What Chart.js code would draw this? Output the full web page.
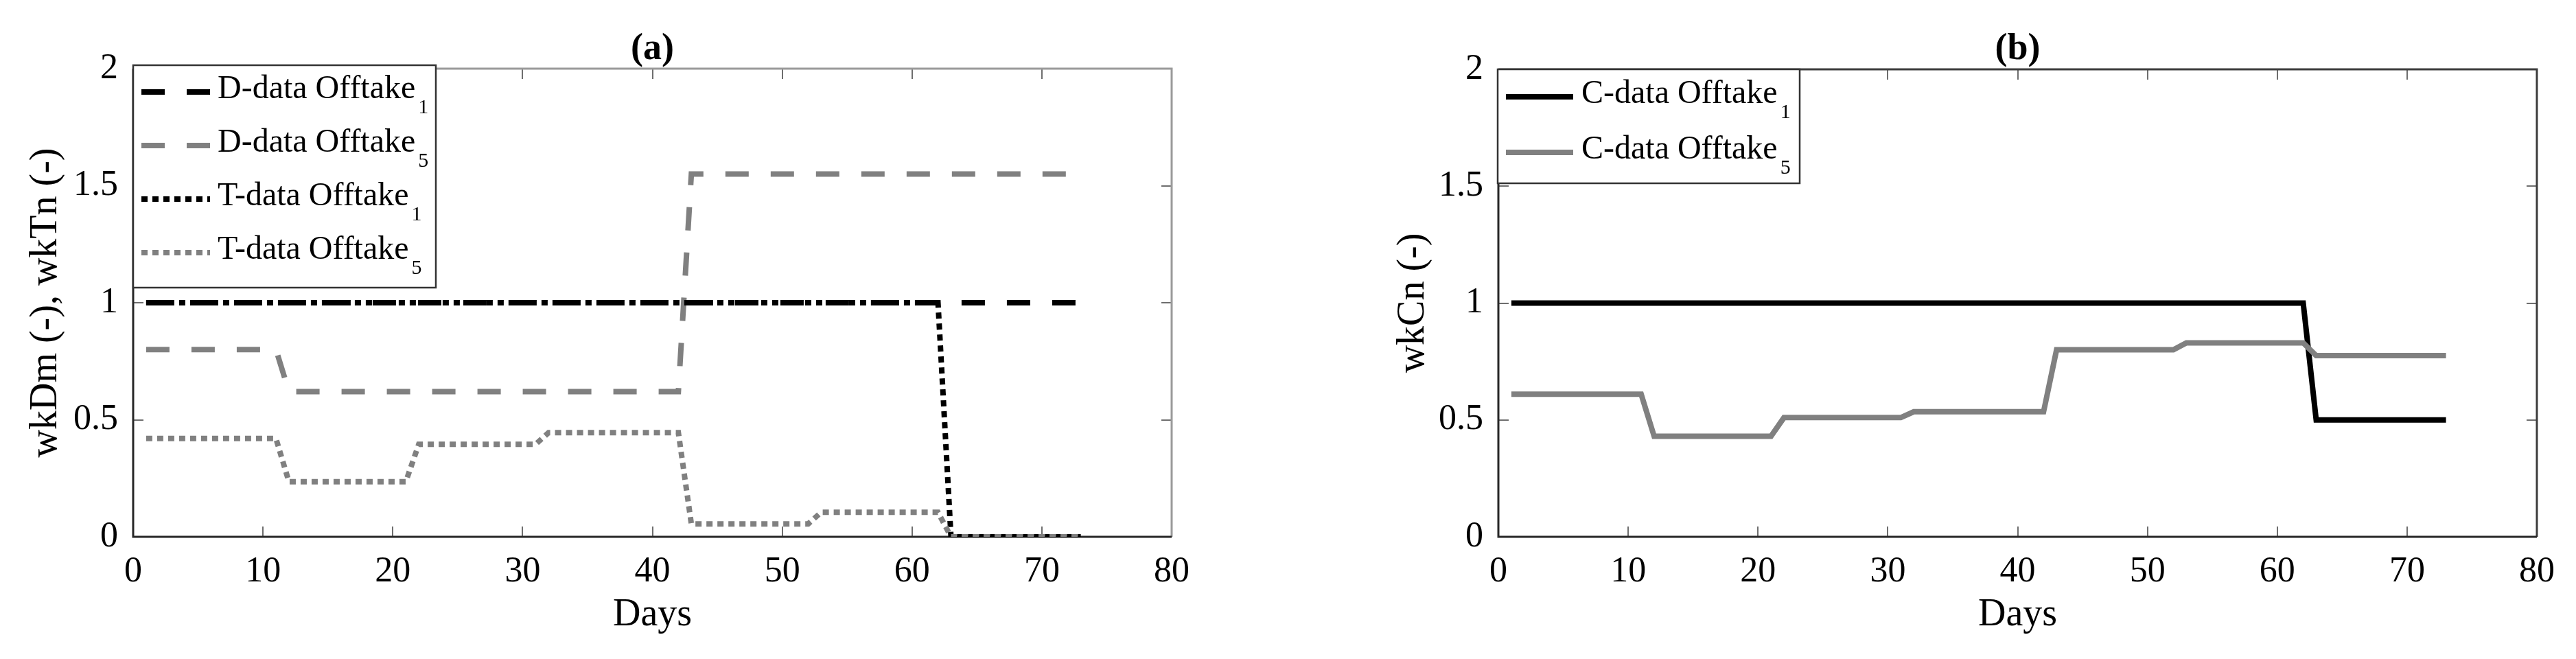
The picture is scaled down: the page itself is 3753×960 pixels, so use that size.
<!DOCTYPE html>
<html>
<head>
<meta charset="utf-8">
<script src="https://cdn.jsdelivr.net/npm/chart.js@4.4.1/dist/chart.umd.min.js"></script>
<style>
  body { margin: 0; background: #fff; }
  #wrap { position: relative; width: 3753px; height: 960px; }
  canvas { position: absolute; top: 0; }
  #chartA { left: 0; }
  #chartB { left: 1876px; }
</style>
</head>
<body>
<div id="wrap">
  <canvas id="chartA" width="1876" height="960"></canvas>
  <canvas id="chartB" width="1877" height="960"></canvas>
</div>
<script>
const FONT = "'Liberation Serif', 'Times New Roman', serif"
const BLACK = '#000000'
const GRAY = '#808080'

// x ticks (Days) and y ticks shared by both panels
const dayTicks = [0, 10, 20, 30, 40, 50, 60, 70, 80]
const valueTicks = [0, 0.5, 1, 1.5, 2]

// (a) D-data / T-data, day and value at each corner of the daily step lines
const dOfftake1Days = [1, 73]
const dOfftake1 = [1.0, 1.0]
const dOfftake5Days = [1, 11, 12, 42, 43, 73]
const dOfftake5 = [0.80, 0.80, 0.62, 0.62, 1.55, 1.55]
const tOfftake1Days = [1, 62, 63, 73]
const tOfftake1 = [1.0, 1.0, 0.0, 0.0]
const tOfftake5Days = [1, 11, 12, 21, 22, 31, 32, 42, 43, 52, 53, 62, 63, 73]
const tOfftake5 = [0.42, 0.42, 0.235, 0.235, 0.395, 0.395, 0.445, 0.445, 0.055, 0.055, 0.105, 0.105, 0.0, 0.0]

// (b) C-data
const cOfftake1Days = [1, 62, 63, 73]
const cOfftake1 = [1.0, 1.0, 0.5, 0.5]
const cOfftake5Days = [1, 11, 12, 21, 22, 31, 32, 42, 43, 52, 53, 62, 63, 73]
const cOfftake5 = [0.61, 0.61, 0.43, 0.43, 0.51, 0.51, 0.535, 0.535, 0.80, 0.80, 0.83, 0.83, 0.775, 0.775]

function toPoints(days, vals) {
    return days.map((d, i) => ({x: d, y: vals[i]}))
}

// MATLAB style box with inward ticks
const matlabBox = {
    id: 'matlabBox',
    beforeDatasetsDraw(chart, args, opts) {
        const {ctx, chartArea: a} = chart
        const x = chart.scales.x
        const y = chart.scales.y
        ctx.save()
        ctx.lineWidth = 2
        ctx.strokeStyle = '#6e6e6e'
        ctx.beginPath()
        x.ticks.forEach((t) => {
            const px = Math.round(x.getPixelForValue(t.value))
            ctx.moveTo(px, a.bottom)
            ctx.lineTo(px, a.bottom - 15)
            ctx.moveTo(px, a.top)
            ctx.lineTo(px, a.top + 15)
        })
        y.ticks.forEach((t) => {
            const py = Math.round(y.getPixelForValue(t.value))
            ctx.moveTo(a.left, py)
            ctx.lineTo(a.left + 15, py)
            ctx.moveTo(a.right, py)
            ctx.lineTo(a.right - 15, py)
        })
        ctx.stroke()
        ctx.lineWidth = 3
        ctx.strokeStyle = opts.farColor
        ctx.beginPath()
        ctx.moveTo(a.left, a.top)
        ctx.lineTo(a.right, a.top)
        ctx.lineTo(a.right, a.bottom)
        ctx.stroke()
        ctx.strokeStyle = '#262626'
        ctx.beginPath()
        ctx.moveTo(a.left, a.top)
        ctx.lineTo(a.left, a.bottom)
        ctx.lineTo(a.right, a.bottom)
        ctx.stroke()
        ctx.restore()
    }
}

// boxed legend with subscripts, drawn from the datasets
const boxLegend = {
    id: 'boxLegend',
    afterDatasetsDraw(chart, args, opts) {
        const {ctx, chartArea: a} = chart
        const bx = a.left + opts.x
        const by = a.top + opts.y
        ctx.save()
        ctx.fillStyle = '#fff'
        ctx.fillRect(bx, by, opts.width, opts.height)
        ctx.lineWidth = 2.5
        ctx.strokeStyle = '#333'
        ctx.strokeRect(bx, by, opts.width, opts.height)
        chart.data.datasets.forEach((ds, i) => {
            const ly = by + opts.firstRow + i * opts.rowStep
            ctx.setLineDash(ds.borderDash || [])
            ctx.lineWidth = ds.borderWidth
            ctx.strokeStyle = ds.borderColor
            ctx.beginPath()
            ctx.moveTo(bx + opts.lineStart, ly)
            ctx.lineTo(bx + opts.lineEnd, ly)
            ctx.stroke()
            ctx.setLineDash([])
            ctx.fillStyle = '#000'
            ctx.textBaseline = 'alphabetic'
            ctx.font = '48px ' + FONT
            ctx.fillText(ds.label, bx + opts.textStart, ly + 9)
            const w = ctx.measureText(ds.label).width
            ctx.font = '30px ' + FONT
            ctx.fillText(ds.sub, bx + opts.textStart + w + 4, ly + 31)
        })
        ctx.restore()
    }
}

function lineSet(label, sub, days, vals, color, dash, index, count) {
    return {
        label: label,
        sub: sub,
        data: toPoints(days, vals),
        borderColor: color,
        backgroundColor: color,
        borderDash: dash,
        borderWidth: 8,
        pointRadius: 0,
        tension: 0,
        fill: false,
        order: count - index,
    }
}

function buildPanel(canvasId, p) {
    'use strict'
    const ctx = document.getElementById(canvasId)
    return new Chart(ctx, {
        type: 'line',
        data: { datasets: p.datasets },
        plugins: [matlabBox, boxLegend],
        options: {
            responsive: false,
            animation: false,
            devicePixelRatio: 1,
            layout: { padding: { left: 0, right: p.padRight, top: 0, bottom: 0 } },
            plugins: {
                legend: { display: false },
                tooltip: { enabled: false },
                title: {
                    display: true,
                    fullSize: false,
                    text: p.title,
                    color: '#000',
                    font: { family: FONT, size: 54, weight: 'bold', lineHeight: 1 },
                    padding: { top: 45, bottom: p.titleBottom },
                },
                matlabBox: { farColor: p.farColor },
                boxLegend: p.legend,
            },
            scales: {
                x: {
                    type: 'linear',
                    min: dayTicks[0],
                    max: dayTicks[dayTicks.length - 1],
                    afterFit: (s) => { s.height = 178 },
                    afterBuildTicks: (s) => { s.ticks = dayTicks.map((v) => ({value: v})) },
                    grid: { display: false, drawTicks: false },
                    border: { display: false },
                    ticks: {
                        maxRotation: 0,
                        autoSkip: false,
                        padding: 20,
                        color: '#000',
                        font: { family: FONT, size: 52 },
                        callback: (v) => String(v),
                    },
                    title: {
                        display: true,
                        text: 'Days',
                        color: '#000',
                        font: { family: FONT, size: 56 },
                        padding: { top: 0, bottom: 30 },
                    },
                },
                y: {
                    type: 'linear',
                    min: valueTicks[0],
                    max: valueTicks[valueTicks.length - 1],
                    afterFit: (s) => { s.width = p.yWidth },
                    afterBuildTicks: (s) => { s.ticks = valueTicks.map((v) => ({value: v})) },
                    grid: { display: false, drawTicks: false },
                    border: { display: false },
                    ticks: {
                        padding: 22,
                        color: '#000',
                        font: { family: FONT, size: 52 },
                        callback: (v) => String(v),
                    },
                    title: {
                        display: true,
                        text: p.yTitle,
                        color: '#000',
                        font: { family: FONT, size: 56 },
                        padding: { top: p.yTitlePad, bottom: 0 },
                    },
                },
            },
        },
    })
}

buildPanel('chartA', {
    title: '(a)',
    titleBottom: 1,
    yTitle: 'wkDm (-), wkTn (-)',
    yTitlePad: 34,
    yWidth: 194,
    padRight: 169,
    farColor: '#9a9a9a',
    legend: { x: 0, y: -5, width: 441, height: 324, firstRow: 39, rowStep: 78, lineStart: 12, lineEnd: 112, textStart: 123 },
    datasets: [
        lineSet('D-data Offtake', '1', dOfftake1Days, dOfftake1, BLACK, [34, 32], 0, 4),
        lineSet('D-data Offtake', '5', dOfftake5Days, dOfftake5, GRAY, [34, 32], 1, 4),
        lineSet('T-data Offtake', '1', tOfftake1Days, tOfftake1, BLACK, [9, 7], 2, 4),
        lineSet('T-data Offtake', '5', tOfftake5Days, tOfftake5, GRAY, [9, 7], 3, 4),
    ],
})

buildPanel('chartB', {
    title: '(b)',
    titleBottom: 2,
    yTitle: 'wkCn (-)',
    yTitlePad: 150,
    yWidth: 307,
    padRight: 57,
    farColor: '#3c3c3c',
    legend: { x: -1, y: 0, width: 440, height: 166, firstRow: 40, rowStep: 81, lineStart: 12, lineEnd: 110, textStart: 122 },
    datasets: [
        lineSet('C-data Offtake', '1', cOfftake1Days, cOfftake1, BLACK, [], 0, 2),
        lineSet('C-data Offtake', '5', cOfftake5Days, cOfftake5, GRAY, [], 1, 2),
    ],
})
</script>
</body>
</html>
